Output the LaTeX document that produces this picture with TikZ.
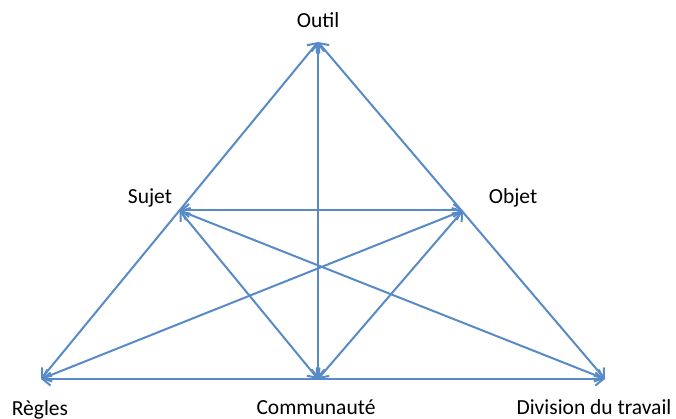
\documentclass[tikz,border=0pt]{standalone}
\usepackage{fontspec}
\setmainfont{Carlito}
\usetikzlibrary{arrows.meta}
\definecolor{linkblue}{RGB}{88,138,200}
\tikzset{
  link/.style={draw=linkblue, line width=2pt,
    {Straight Barb[length=8pt,width=13pt,line width=2pt]}-{Straight Barb[length=8pt,width=13pt,line width=2pt]}},
  lbl/.style={anchor=base, inner sep=0pt, font=\fontsize{21.5}{25}\selectfont}
}
\begin{document}
\begin{tikzpicture}[x=1pt,y=-1pt]
\useasboundingbox (0,0) rectangle (676,419);
\coordinate (outil) at (318,42);
\coordinate (sujet) at (179.5,210.5);
\coordinate (objet) at (463,210.5);
\coordinate (regles) at (41,379);
\coordinate (comm) at (318,379);
\coordinate (div) at (605,379);
\draw[link] (outil) -- (regles);
\draw[link] (outil) -- (div);
\draw[link] (outil) -- (comm);
\draw[link] (sujet) -- (objet);
\draw[link] (sujet) -- (comm);
\draw[link] (sujet) -- (div);
\draw[link] (objet) -- (regles);
\draw[link] (objet) -- (comm);
\draw[link] (regles) -- (div);
\node[lbl] (tOutil) at (318,28) {Outil};
\node[lbl] (tSujet) at (150,204) {Sujet};
\node[lbl] (tObjet) at (513,204) {Objet};
\node[lbl] (tRegles) at (40,415) {Règles};
\node[lbl] (tComm) at (316,414) {Communauté};
\node[lbl] (tDiv) at (594,414) {Division du travail};
\end{tikzpicture}
\end{document}
